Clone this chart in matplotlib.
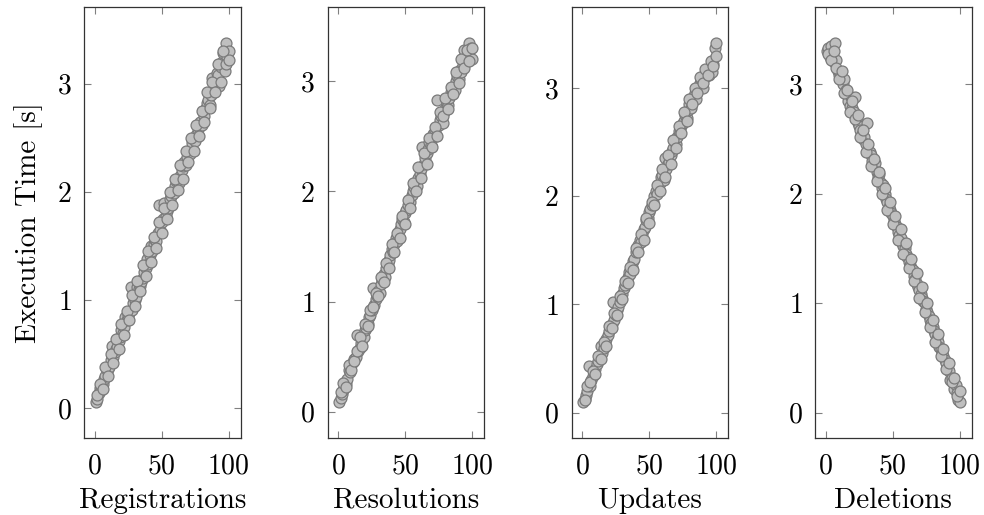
import matplotlib
matplotlib.use("Agg")
import matplotlib.pyplot as plt

plt.rcParams['font.family'] = ['cmr10', 'DejaVu Serif']
plt.rcParams['mathtext.fontset'] = 'cm'
plt.rcParams['axes.formatter.use_mathtext'] = True

x_vals = list(range(1, 101))
x_vals_b = list(range(2, 101, 2))

registrations = [
    0.06, 0.09, 0.14, 0.19, 0.17, 0.22, 0.27, 0.30, 0.35, 0.36,
    0.38, 0.45, 0.58, 0.47, 0.52, 0.55, 0.57, 0.62, 0.66, 0.72,
    0.70, 0.75, 0.84, 0.82, 0.86, 0.88, 1.12, 0.91, 0.97, 1.00,
    1.03, 1.12, 1.10, 1.13, 1.17, 1.20, 1.26, 1.30, 1.38, 1.33,
    1.42, 1.50, 1.45, 1.52, 1.56, 1.55, 1.62, 1.88, 1.65, 1.72,
    1.75, 1.90, 1.78, 1.82, 1.85, 1.93, 1.96, 2.00, 1.99, 2.05,
    2.10, 2.12, 2.08, 2.15, 2.20, 2.24, 2.28, 2.25, 2.32, 2.37,
    2.35, 2.40, 2.45, 2.50, 2.47, 2.53, 2.58, 2.60, 2.65, 2.62,
    2.75, 2.70, 2.78, 2.82, 2.85, 2.80, 2.90, 3.05, 2.95, 3.00,
    3.10, 3.08, 2.98, 3.15, 3.20, 3.28, 3.12, 3.38, 3.25, 3.30,
]
registrations_b = [
    0.12, 0.22, 0.18, 0.38, 0.30, 0.50, 0.42, 0.64, 0.55, 0.78,
    0.68, 0.90, 0.82, 1.05, 0.95, 1.18, 1.08, 1.32, 1.22, 1.45,
    1.35, 1.58, 1.48, 1.72, 1.62, 1.85, 1.75, 2.00, 1.88, 2.12,
    2.02, 2.25, 2.12, 2.38, 2.28, 2.50, 2.38, 2.62, 2.52, 2.75,
    2.65, 2.92, 2.78, 3.02, 2.92, 3.18, 3.02, 3.30, 3.18, 3.22,
]

resolutions = [
    0.09, 0.12, 0.16, 0.20, 0.27, 0.25, 0.30, 0.38, 0.36, 0.42,
    0.45, 0.48, 0.50, 0.70, 0.55, 0.58, 0.62, 0.66, 0.68, 0.74,
    0.76, 0.80, 0.86, 0.88, 0.92, 1.12, 0.97, 1.02, 1.05, 1.10,
    1.08, 1.16, 1.20, 1.25, 1.22, 1.30, 1.35, 1.38, 1.42, 1.48,
    1.45, 1.52, 1.58, 1.55, 1.62, 1.66, 1.70, 1.75, 1.72, 1.80,
    1.83, 1.88, 1.92, 1.90, 1.97, 2.00, 2.04, 2.08, 2.05, 2.12,
    2.16, 2.20, 2.40, 2.25, 2.30, 2.35, 2.38, 2.45, 2.42, 2.48,
    2.52, 2.55, 2.50, 2.83, 2.60, 2.65, 2.68, 2.62, 2.72, 2.75,
    2.80, 2.78, 2.85, 2.90, 2.88, 2.95, 2.92, 3.00, 3.05, 3.02,
    3.10, 3.08, 3.15, 3.28, 3.18, 3.22, 3.25, 3.35, 3.30, 3.20,
]
resolutions_b = [
    0.18, 0.26, 0.22, 0.42, 0.38, 0.46, 0.55, 0.68, 0.60, 0.80,
    0.78, 0.92, 0.95, 1.08, 1.05, 1.22, 1.18, 1.35, 1.30, 1.52,
    1.45, 1.62, 1.58, 1.78, 1.70, 1.92, 1.85, 2.08, 2.00, 2.22,
    2.12, 2.35, 2.25, 2.48, 2.40, 2.58, 2.50, 2.72, 2.68, 2.85,
    2.75, 2.95, 2.88, 3.08, 2.98, 3.20, 3.12, 3.28, 3.18, 3.30,
]

updates = [
    0.10, 0.13, 0.16, 0.20, 0.43, 0.25, 0.30, 0.34, 0.37, 0.40,
    0.45, 0.48, 0.52, 0.62, 0.55, 0.60, 0.65, 0.68, 0.72, 0.75,
    0.80, 0.82, 1.02, 0.86, 0.90, 0.95, 0.98, 1.02, 1.06, 1.10,
    1.15, 1.18, 1.22, 1.25, 1.30, 1.28, 1.35, 1.40, 1.42, 1.48,
    1.50, 1.55, 1.60, 1.58, 1.65, 1.70, 1.72, 1.78, 1.80, 1.85,
    1.88, 1.92, 1.95, 2.00, 2.05, 2.02, 2.10, 2.12, 2.18, 2.20,
    2.15, 2.35, 2.25, 2.30, 2.32, 2.38, 2.42, 2.45, 2.50, 2.48,
    2.55, 2.60, 2.58, 2.65, 2.68, 2.70, 2.75, 2.72, 2.80, 2.85,
    2.82, 2.88, 2.92, 2.95, 2.90, 3.00, 3.02, 3.05, 3.08, 3.00,
    3.12, 3.10, 3.15, 3.18, 3.12, 3.20, 3.15, 3.22, 3.37, 3.42,
]
updates_b = [
    0.12, 0.25, 0.28, 0.38, 0.36, 0.52, 0.50, 0.65, 0.62, 0.80,
    0.78, 0.92, 0.90, 1.08, 1.05, 1.22, 1.20, 1.35, 1.32, 1.52,
    1.48, 1.65, 1.60, 1.80, 1.75, 1.95, 1.92, 2.10, 2.05, 2.25,
    2.18, 2.38, 2.30, 2.52, 2.45, 2.65, 2.58, 2.78, 2.70, 2.90,
    2.85, 3.00, 2.95, 3.10, 3.05, 3.18, 3.12, 3.25, 3.20, 3.30,
]

deletions = [
    3.30, 3.33, 3.25, 3.35, 3.28, 3.20, 3.38, 3.22, 3.12, 3.08,
    3.10, 3.05, 3.00, 3.05, 2.95, 2.90, 2.85, 2.80, 2.88, 2.78,
    2.75, 2.88, 2.70, 2.65, 2.62, 2.58, 2.55, 2.50, 2.52, 2.45,
    2.65, 2.40, 2.38, 2.35, 2.30, 2.25, 2.28, 2.20, 2.15, 2.18,
    2.10, 2.05, 2.08, 2.00, 1.95, 1.92, 1.88, 1.85, 1.82, 1.80,
    1.75, 1.72, 1.70, 1.65, 1.62, 1.60, 1.55, 1.52, 1.50, 1.45,
    1.42, 1.38, 1.35, 1.32, 1.30, 1.25, 1.22, 1.18, 1.15, 1.12,
    1.08, 1.05, 1.02, 1.00, 0.95, 0.92, 0.88, 0.85, 0.82, 0.78,
    0.75, 0.72, 0.68, 0.65, 0.60, 0.58, 0.55, 0.52, 0.48, 0.45,
    0.40, 0.38, 0.30, 0.32, 0.28, 0.22, 0.25, 0.18, 0.12, 0.10,
]
deletions_b = [
    3.28, 3.22, 3.30, 3.15, 3.05, 3.12, 2.92, 2.95, 2.75, 2.85,
    2.68, 2.72, 2.52, 2.58, 2.38, 2.45, 2.25, 2.32, 2.12, 2.20,
    2.00, 2.05, 1.85, 1.92, 1.72, 1.80, 1.58, 1.68, 1.45, 1.55,
    1.32, 1.40, 1.20, 1.28, 1.05, 1.15, 0.92, 1.00, 0.78, 0.85,
    0.65, 0.72, 0.52, 0.58, 0.40, 0.45, 0.28, 0.32, 0.15, 0.20,
]

panel_labels = ["Registrations", "Resolutions", "Updates", "Deletions"]
series = [(registrations, registrations_b), (resolutions, resolutions_b),
          (updates, updates_b), (deletions, deletions_b)]
x_ticks = [0, 50, 100]
y_ticks = [0, 1, 2, 3]

W, H = 984, 515
fig = plt.figure(figsize=(W / 100, H / 100), dpi=100)

lefts = [84, 327.5, 571.5, 815]
ax_w = 156.5
top_px, bot_px = 6.7, 437.7

for i, (lab, (ya, yb)) in enumerate(zip(panel_labels, series)):
    ax = fig.add_axes([lefts[i] / W, (H - bot_px) / H, ax_w / W, (bot_px - top_px) / H])
    ax.scatter(x_vals, ya, s=62, facecolor='#bfbfbf', edgecolor='#7a7a7a',
               linewidths=0.9, zorder=3)
    ax.scatter(x_vals_b, yb, s=62, facecolor='#bfbfbf', edgecolor='#7a7a7a',
               linewidths=0.9, zorder=3)
    ax.margins(x=0.09, y=0.1)
    ax.set_xticks(x_ticks)
    ax.set_yticks(y_ticks)
    ax.tick_params(direction='in', length=5, width=0.8, color='#808080',
                   top=True, right=True, labelsize=20)
    ax.tick_params(axis='x', pad=11)
    ax.tick_params(axis='y', pad=9)
    for sp in ax.spines.values():
        sp.set_linewidth(0.9)
        sp.set_color('#333333')
    ax.set_xlabel(lab, fontsize=21, labelpad=6)
    if i == 0:
        ax.set_ylabel("Execution Time [s]", fontsize=21, labelpad=10)

fig.savefig("out.png", dpi=100)
